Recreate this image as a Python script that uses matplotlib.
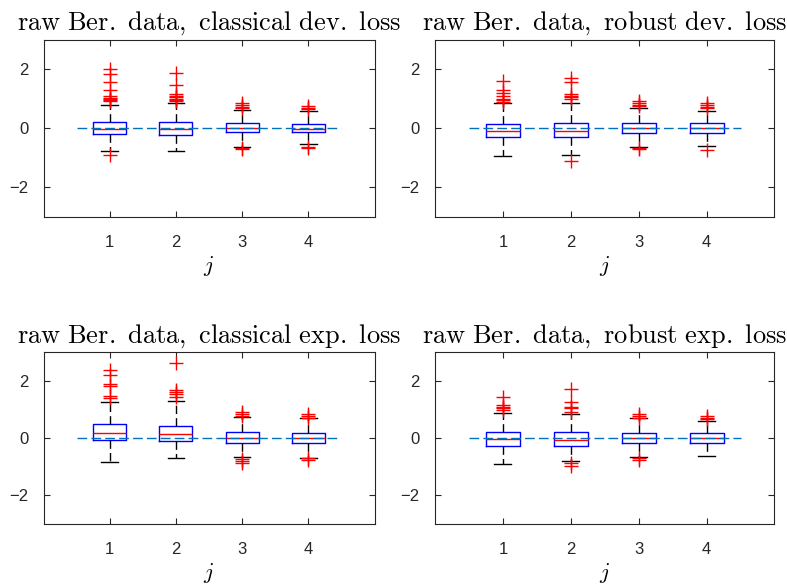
import numpy as np
import matplotlib
matplotlib.use('Agg')
import matplotlib.pyplot as plt

plt.rcParams['mathtext.fontset'] = 'cm'
plt.rcParams['font.family'] = ['Liberation Sans', 'DejaVu Sans']

# ── Box statistics (j = 1..4) ──────────────────────────────────
titles = ['raw Ber. data, classical dev. loss',
          'raw Ber. data, robust dev. loss',
          'raw Ber. data, classical exp. loss',
          'raw Ber. data, robust exp. loss']

q1_cd     = [-0.21, -0.24, -0.14, -0.14]
med_cd    = [-0.01, -0.02, 0.00, -0.01]
q3_cd     = [0.21, 0.22, 0.17, 0.16]
wlo_cd    = [-0.76, -0.78, -0.63, -0.53]
whi_cd    = [0.77, 0.86, 0.63, 0.59]
fl_cd     = [[2.0, 1.85, 1.55, 1.28, 1.1, 1.02, 0.98, 0.94, 0.91, -0.9],
             [1.88, 1.45, 1.15, 1.1, 1.05, 1.0, 0.95, 0.92],
             [0.85, 0.78, 0.72, 0.67, -0.66, -0.7],
             [0.74, 0.69, 0.64, -0.62, -0.67]]

q1_rd     = [-0.31, -0.31, -0.15, -0.15]
med_rd    = [-0.08, -0.09, 0.00, 0.00]
q3_rd     = [0.16, 0.19, 0.19, 0.17]
wlo_rd    = [-0.93, -0.91, -0.64, -0.6]
whi_rd    = [0.84, 0.86, 0.67, 0.6]
fl_rd     = [[1.6, 1.3, 1.2, 1.1, 1.0, 0.95, 0.9],
             [1.7, 1.55, 1.15, 1.1, 1.05, 1.0, -1.1],
             [0.93, 0.86, 0.8, 0.75, -0.66, -0.7],
             [0.87, 0.8, 0.72, 0.67, -0.73]]

q1_ce     = [-0.08, -0.09, -0.18, -0.18]
med_ce    = [0.17, 0.15, 0.00, 0.01]
q3_ce     = [0.49, 0.44, 0.20, 0.18]
wlo_ce    = [-0.82, -0.71, -0.66, -0.71]
whi_ce    = [1.27, 1.29, 0.73, 0.69]
fl_ce     = [[2.39, 2.21, 1.9, 1.83, 1.46, 1.42],
             [2.62, 1.69, 1.6, 1.55, 1.45],
             [0.9, 0.83, 0.76, -0.73, -0.8, -0.88],
             [0.85, 0.78, 0.72, -0.7, -0.75]]

q1_re     = [-0.26, -0.28, -0.16, -0.16]
med_re    = [-0.04, -0.06, 0.00, 0.00]
q3_re     = [0.21, 0.20, 0.18, 0.17]
wlo_re    = [-0.91, -0.79, -0.66, -0.63]
whi_re    = [0.87, 0.84, 0.69, 0.61]
fl_re     = [[1.43, 1.15, 1.1, 1.05, 1.0],
             [1.72, 1.28, 1.1, 1.05, 0.93, -0.88, -0.97],
             [0.83, 0.77, 0.72, -0.68, -0.75],
             [0.78, 0.72, 0.66]]

panels = [(q1_cd, med_cd, q3_cd, wlo_cd, whi_cd, fl_cd),
          (q1_rd, med_rd, q3_rd, wlo_rd, whi_rd, fl_rd),
          (q1_ce, med_ce, q3_ce, wlo_ce, whi_ce, fl_ce),
          (q1_re, med_re, q3_re, wlo_re, whi_re, fl_re)]

positions = [1, 2, 3, 4]

# axes rectangles (MATLAB-like layout)
rects = [[0.0553, 0.6303, 0.4206, 0.3024],
         [0.5527, 0.6303, 0.4314, 0.3024],
         [0.0553, 0.1078, 0.4206, 0.2917],
         [0.5527, 0.1078, 0.4314, 0.2917]]

fig = plt.figure(figsize=(7.87, 5.87), dpi=100)

for rect, title, (q1, med, q3, wlo, whi, fl) in zip(rects, titles, panels):
    ax = fig.add_axes(rect)
    stats = []
    for i in range(4):
        stats.append(dict(q1=q1[i], med=med[i], q3=q3[i],
                          whislo=wlo[i], whishi=whi[i], fliers=fl[i]))
    ax.bxp(stats, positions=positions, widths=0.5, showfliers=True,
           boxprops=dict(color='blue', linewidth=1.0),
           medianprops=dict(color='red', linewidth=1.0),
           whiskerprops=dict(color='black', linewidth=1.0, linestyle=(0, (6, 3))),
           capprops=dict(color='black', linewidth=1.0),
           capwidths=0.25,
           flierprops=dict(marker='+', markeredgecolor='red', markersize=10,
                           markeredgewidth=1.0, linestyle='none'))
    ax.plot([0.5, 4.5], [0, 0], color='#0072BD', linewidth=1.0,
            linestyle=(0, (7, 3)), zorder=5)

    ax.set_xlim(0, 5)
    ax.set_ylim(-3, 3)
    ax.set_xticks(positions)
    ax.set_xticklabels([str(p) for p in positions])
    ax.set_yticks([-2, 0, 2])
    ax.tick_params(direction='in', top=True, right=True, labelsize=12,
                   length=4, width=0.8, colors='#262626', labelcolor='#262626')
    ax.tick_params(axis='x', pad=13)
    ax.tick_params(axis='y', pad=11)
    for s in ax.spines.values():
        s.set_color('#262626')
        s.set_linewidth(0.8)
    ax.set_xlabel('$j$', fontsize=16, labelpad=3)
    ax.set_title(r'$\mathrm{' + title.replace(' ', r'\ ') + '}$',
                 fontsize=19, pad=7)

plt.savefig('out.png', dpi=100)
